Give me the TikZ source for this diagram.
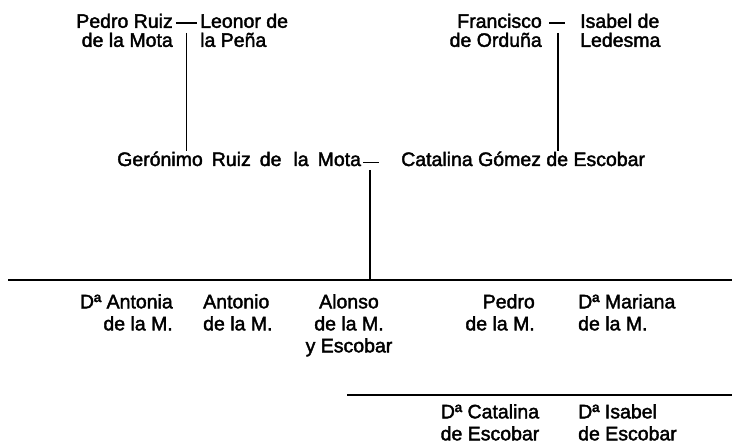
\documentclass[tikz,border=0pt]{standalone}
\usepackage{fontspec}
\setmainfont{Liberation Sans}[RawFeature={embolden=2}]
\usetikzlibrary{calc,positioning}

\tikzset{
  parent/.style={inner sep=0pt, font=\fontsize{19.5}{19}\selectfont},
  kid/.style={inner sep=0pt, font=\fontsize{19.5}{22}\selectfont},
  tie/.style={line width=1.4pt},
  descent/.style={line width=1.8pt},
  bar/.style={line width=2pt}
}

\begin{document}
\begin{tikzpicture}[x=1pt,y=-1pt]
    \useasboundingbox (0,0) rectangle (732,443);

    % grandparents
    \node[parent,anchor=north east,align=right] (pedro) at (173,13.5) {Pedro Ruiz\\de la Mota};
    \node[parent,anchor=north west,align=left] (leonor) at (200,13.5) {Leonor de\\la Peña};
    \node[parent,anchor=north east,align=right] (francisco) at (542,13.5) {Francisco\\de Orduña};
    \node[parent,anchor=north west,align=left] (isabel) at (580,13.5) {Isabel de\\Ledesma};

    % parents
    \node[parent,anchor=base west] (geronimo) at (117,166) {\spaceskip=9pt Gerónimo Ruiz de\hspace{3pt} la Mota};
    \node[parent,anchor=base west] (catalina) at (401,166) {Catalina Gómez de Escobar};

    % children
    \node[kid,anchor=north east,align=right] (antonia) at (173,294) {Dª Antonia\\de la M.};
    \node[kid,anchor=north west,align=left] (antonio) at (203,294) {Antonio\\de la M.};
    \node[kid,anchor=north,align=center] (alonso) at (349,294) {Alonso\\de la M.\\y Escobar};
    \node[kid,anchor=north east,align=right] (pedroM) at (535,294) {Pedro\\de la M.};
    \node[kid,anchor=north west,align=left] (mariana) at (578,294) {Dª Mariana\\de la M.};

    \node[kid,anchor=north,align=center] (catalinaE) at (490,404) {Dª Catalina\\de Escobar};
    \node[kid,anchor=north west,align=left] (isabelE) at (578,404) {Dª Isabel\\de Escobar};

    % marriages
    \draw[tie] ($(pedro.north east)+(3,9.5)$) -- ($(leonor.north west)+(-3,9.5)$);
    \draw[tie] ($(francisco.north east)+(7,9.5)$) -- ($(isabel.north west)+(-15,9.5)$);
    \draw[tie] ($(geronimo.base east)+(2,-3.5)$) -- ($(catalina.base west)+(-22,-3.5)$);

    \coordinate (m1) at ($(pedro.north east)!.5!(leonor.north west)+(0,19.5)$);
    \coordinate (m2) at ($(francisco.north east)+(16,19.5)$);
    \coordinate (m3) at ($(geronimo.base east)+(9,4)$);

    % sibling bars
    \coordinate (bar1w) at (8,280);
    \coordinate (bar1e) at (732,280);
    \coordinate (bar2w) at (347,395);
    \coordinate (bar2e) at (732,395);
    \draw[bar] (bar1w) -- (bar1e);
    \draw[bar] (bar2w) -- (bar2e);

    % descent
    \draw[descent] (m1) -- (m1 |- geronimo.north);
    \draw[descent] (m2) -- (m2 |- catalina.north);
    \draw[descent] (m3) -- (m3 |- bar1w);
\end{tikzpicture}
\end{document}
